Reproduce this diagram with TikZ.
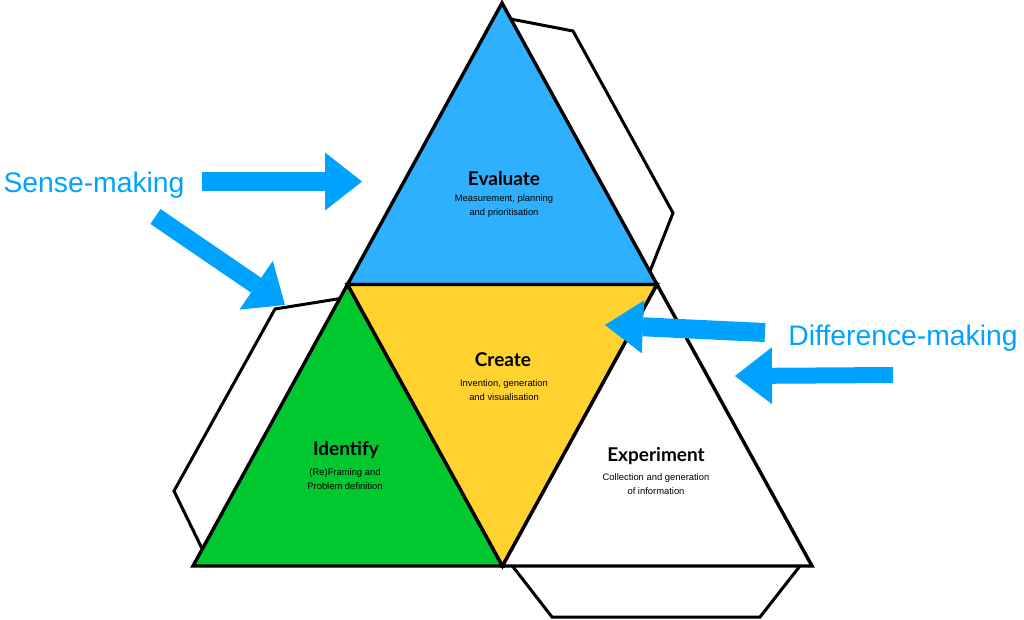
\documentclass[tikz,border=0pt]{standalone}
\usepackage{fontspec}
\setmainfont{Liberation Sans}
\newfontfamily\headfont{Lato}
\usetikzlibrary{arrows.meta,calc}
\definecolor{evalblue}{RGB}{46,176,255}
\definecolor{identgreen}{RGB}{0,200,46}
\definecolor{createyellow}{RGB}{255,210,48}
\definecolor{arrowblue}{RGB}{0,162,255}

\begin{document}
\begin{tikzpicture}[x=1pt,y=-1pt,>={Triangle[length=37pt,width=58pt,line width=0pt]}]
\tikzstyle{face}=[draw=black,line width=3.4pt]
\tikzstyle{flap}=[draw=black,line width=3pt]
\tikzstyle{title}=[font=\headfont\bfseries\fontsize{19}{21}\selectfont]
\tikzstyle{descr}=[font=\fontsize{9.4}{14}\selectfont,align=center]
\tikzstyle{callout}=[text=arrowblue,font=\fontsize{28.3}{30}\selectfont,inner sep=0pt]
\tikzstyle{bigarrow}=[->,draw=arrowblue,line width=19pt]
\useasboundingbox (0,0) rectangle (1024,619);

\coordinate (T) at (502,3);
\coordinate (L) at (193,566);
\coordinate (R) at (812,566);
\coordinate (ML) at ($(T)!0.5!(L)$);
\coordinate (MR) at ($(T)!0.5!(R)$);
\coordinate (MB) at ($(L)!0.5!(R)$);

% flaps
\draw[flap] ($(T)!0.057!(MR)$) -- (573,31) -- (673,213) -- ($(T)!0.954!(MR)$);
\draw[flap] ($(ML)!0.05!(L)$) -- (275,309) -- (174,491) -- ($(ML)!0.94!(L)$);
\draw[flap] ($(MB)!0.032!(R)$) -- (552,617) -- (760,617) -- ($(MB)!0.961!(R)$);

% faces
\filldraw[face,fill=evalblue] (T) -- (MR) -- (ML) -- cycle;
\filldraw[face,fill=identgreen] (ML) -- (MB) -- (L) -- cycle;
\filldraw[face,fill=createyellow] (ML) -- (MR) -- (MB) -- cycle;
\filldraw[face,fill=white] (MR) -- (R) -- (MB) -- cycle;

\node[title] (EV) at (504,179) {Evaluate};
\node[descr] (EVd) at (504,206) {Measurement, planning\\and prioritisation};
\node[title] (CR) at (503,360) {Create};
\node[descr] (CRd) at (504,390) {Invention, generation\\and visualisation};
\node[title] (ID) at (346,450) {Identify};
\node[descr] (IDd) at (345,479) {(Re)Framing and\\Problem definition};
\node[title] (EX) at (656,456) {Experiment};
\node[descr] (EXd) at (656,484) {Collection and generation\\of information};

\node[callout,anchor=base] (SM) at (94,192) {Sense-making};
\node[callout,anchor=base] (DM) at (903,345) {Difference-making};

\coordinate (SMa) at (202,181.5);
\coordinate (SMat) at (362,181.5);
\coordinate (SMb) at (155.5,216.5);
\coordinate (SMbt) at (285,305);
\coordinate (DMa) at (765,332.5);
\coordinate (DMat) at (605,325);
\coordinate (DMb) at (893,375);
\coordinate (DMbt) at (735,376);

\draw[bigarrow] (SMa) -- (SMat);
\draw[bigarrow,line width=18pt,-{Triangle[length=35pt,width=59pt,line width=0pt]}] (SMb) -- (SMbt);
\draw[bigarrow,-{Triangle[length=38pt,width=53pt,line width=0pt]}] (DMa) -- (DMat);
\draw[bigarrow,line width=16pt,-{Triangle[length=37pt,width=57pt,line width=0pt]}] (DMb) -- (DMbt);
%\draw[bigarrow] (DM) -- (MR);
\end{tikzpicture}
\end{document}
